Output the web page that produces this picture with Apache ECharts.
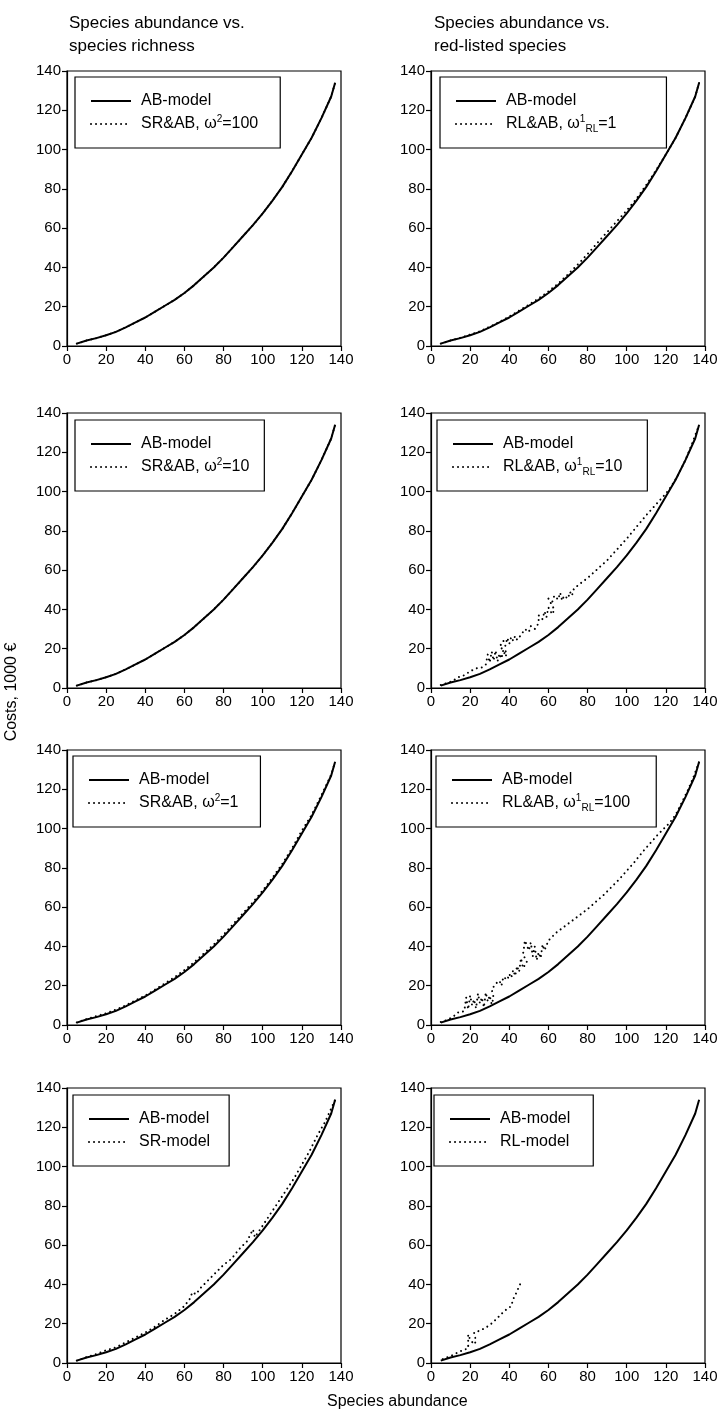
<!DOCTYPE html>
<html>
<head>
<meta charset="utf-8">
<script src="https://cdn.jsdelivr.net/npm/echarts@6/dist/echarts.min.js"></script>
<style>
html, body { margin: 0; padding: 0; background: #fff; }
#chart { width: 723px; height: 1412px; }
</style>
</head>
<body>
<div id="chart"></div>
<script>
// axis ticks shared by every panel
var axisTicks = [0, 20, 40, 60, 80, 100, 120, 140];

// AB-model (same curve in all panels)
var abundance = [5, 10, 15, 20, 25, 30, 35, 40, 45, 50, 55, 60, 65, 70, 75, 80, 85, 90, 95, 100, 105, 110, 115, 120, 125, 130, 135, 137];
var abCost = [1.2, 2.8, 4.0, 5.5, 7.2, 9.5, 12, 14.5, 17.5, 20.5, 23.5, 27, 31, 35.5, 40, 45, 50.5, 56, 61.5, 67.5, 74, 81, 89, 97.5, 106, 116, 127, 134];

// dotted series, [abundance, cost]
var srab100 = [[5, 1.2], [10, 2.8], [15, 4.0], [20, 5.5], [25, 7.2], [30, 9.5], [35, 12], [40, 14.5], [45, 17.5], [50, 20.5], [55, 23.5], [60, 27], [65, 31], [70, 35.5], [75, 40], [80, 45], [85, 50.5], [90, 56], [95, 61.5], [100, 67.5], [105, 74], [110, 81], [115, 89], [120, 97.5], [125, 106], [130, 116], [135, 127], [137, 134]];
var srab10 = [[5, 1.2], [10, 2.8], [15, 4.0], [20, 5.5], [25, 7.2], [30, 9.5], [35, 12], [40, 14.5], [45, 17.5], [50, 20.5], [55, 23.5], [60, 27], [65, 31], [70, 35.5], [75, 40], [80, 45], [85, 50.5], [90, 56], [95, 61.5], [100, 67.5], [105, 74], [110, 81], [115, 89], [120, 97.5], [125, 106], [130, 116], [135, 127], [137, 134]];
var srab1 = [[5, 1.3], [10, 3], [15, 4.5], [20, 6], [25, 7.8], [30, 10], [35, 12.5], [40, 15], [45, 18], [50, 21.2], [55, 24.3], [60, 28], [65, 32], [70, 36.5], [75, 41], [80, 46], [85, 51.5], [90, 57], [95, 62.5], [100, 68.5], [105, 75], [110, 82], [115, 90], [120, 99], [125, 107], [130, 117], [135, 127.5], [137, 134]];
var srModel = [[5, 1.2], [10, 3], [15, 4.5], [20, 6.5], [25, 8], [30, 10.5], [35, 13], [40, 15.5], [45, 18.5], [50, 22], [55, 25], [60, 29], [63, 33], [64, 36], [66, 35], [68, 38], [72, 42], [76, 46], [80, 50], [84, 53], [88, 58], [92, 62], [95, 68], [96, 64], [100, 70], [104, 76], [108, 82], [112, 88], [116, 94], [120, 101], [124, 108], [128, 116], [132, 123], [137, 134]];
var rlab1 = [[5, 1.2], [10, 2.8], [15, 4.2], [20, 5.8], [25, 7.5], [30, 9.8], [35, 12.3], [40, 15], [45, 18], [50, 21], [55, 24.2], [60, 27.8], [65, 31.8], [70, 36.5], [75, 41.5], [80, 46.8], [85, 52.5], [90, 58], [95, 63.5], [100, 69], [105, 75], [110, 82], [115, 89.5], [120, 97.5], [125, 106], [130, 116], [135, 127], [137, 134]];
var rlab10 = [[5, 1.5], [8, 2.5], [11, 3.5], [14, 5.5], [17, 6.5], [20, 8.5], [23, 10], [26, 10.5], [28, 12], [29, 17], [30, 13], [31, 18.5], [32, 14], [33, 19], [34, 13.5], [35, 17.5], [36, 15], [37, 19.5], [38, 16], [39, 18], [35, 21], [37, 24], [38, 21.5], [39, 25.5], [40, 22.5], [41, 26], [42, 24], [43, 26.5], [44, 24.5], [46, 27], [48, 30], [50, 28.5], [51, 31.5], [53, 30], [55, 33], [55, 37], [57, 35], [58, 39], [59, 36], [60, 41], [62, 37.5], [63, 40], [60, 45.5], [62, 44], [63, 47], [65, 45], [66, 48.5], [67, 44.5], [68, 47], [70, 45.5], [71, 49], [72, 47], [73, 50.5], [76, 53], [80, 56], [85, 60.5], [90, 65], [95, 70.5], [100, 76], [105, 82], [110, 88], [115, 93.5], [120, 99], [123, 103], [126, 108], [130, 116], [134, 126], [137, 134]];
var rlab100 = [[5, 1.5], [8, 2.5], [11, 4], [14, 6.5], [17, 7], [18, 14], [19, 8], [20, 15], [21, 10], [22, 13], [23, 8.5], [24, 16], [25, 11], [26, 14], [27, 9], [28, 16.5], [29, 12], [30, 15], [31, 10.5], [32, 14], [31, 18], [33, 21], [35, 22.5], [36, 20], [37, 24.5], [39, 23], [40, 26], [41, 24], [42, 28], [43, 25], [44, 30], [45, 27], [46, 34], [47, 29], [48, 28], [49, 32], [47, 36], [48, 43], [50, 38], [51, 42], [52, 35], [53, 40], [54, 33], [55, 37], [56, 34], [57, 41], [58, 38], [60, 43], [64, 47], [68, 50], [72, 53], [76, 56], [80, 59], [84, 62.5], [88, 66], [92, 70], [96, 74], [100, 78.5], [104, 83], [108, 88], [112, 92.5], [116, 97], [119, 100], [122, 103], [125, 107], [128, 113], [131, 119], [134, 126], [137, 134]];
var rlModel = [[6, 2], [11, 4], [15, 6], [19, 7.5], [19, 14.5], [20, 12], [22, 9.5], [23, 11], [22, 15.5], [25, 16.5], [28, 18], [31.5, 20.5], [34.5, 23.5], [37.5, 26.5], [41, 29], [42, 32.5], [43.5, 35.5], [45, 39], [46.5, 42]];

var font = 'Liberation Sans';
var rowTop = [71, 413, 750, 1088];
var colLeft = [67, 431];

var panels = [
    { row: 0, col: 0, name: 'SR&AB 100', label: 'SR&AB, ω{sup|2}=100', data: srab100, box: [75, 77, 22] },
    { row: 0, col: 1, name: 'RL&AB 1', label: 'RL&AB, ω{sup|1}{sub|RL}=1', data: rlab1, box: [440, 77, 50] },
    { row: 1, col: 0, name: 'SR&AB 10', label: 'SR&AB, ω{sup|2}=10', data: srab10, box: [75, 420, 15] },
    { row: 1, col: 1, name: 'RL&AB 10', label: 'RL&AB, ω{sup|1}{sub|RL}=10', data: rlab10, box: [437, 420, 25] },
    { row: 2, col: 0, name: 'SR&AB 1', label: 'SR&AB, ω{sup|2}=1', data: srab1, box: [73, 756, 22] },
    { row: 2, col: 1, name: 'RL&AB 100', label: 'RL&AB, ω{sup|1}{sub|RL}=100', data: rlab100, box: [436, 756, 26] },
    { row: 3, col: 0, name: 'SR-model', label: 'SR-model', data: srModel, box: [73, 1095, 19] },
    { row: 3, col: 1, name: 'RL-model', label: 'RL-model', data: rlModel, box: [434, 1095, 23] }
];

var labelMap = {};
panels.forEach(function (p) { labelMap[p.name] = p.label; });

function abSeriesData() {
    return abundance.map(function (x, i) { return [x, abCost[i]]; });
}

var grids = [], xAxes = [], yAxes = [], legends = [], series = [];
panels.forEach(function (p, i) {
    grids.push({
        left: colLeft[p.col], top: rowTop[p.row], width: 274, height: 275,
        show: true, borderColor: '#000', borderWidth: 1.2, backgroundColor: 'transparent'
    });
    var axisCommon = {
        gridIndex: i, type: 'value', min: axisTicks[0], max: axisTicks[axisTicks.length - 1],
        interval: axisTicks[1] - axisTicks[0],
        axisLine: { show: true, onZero: false, lineStyle: { color: '#000', width: 1.2 } },
        axisTick: { show: true, inside: false, length: 5, lineStyle: { color: '#000', width: 1.2 } },
        axisLabel: { color: '#000', fontSize: 15, fontFamily: font, margin: 6 },
        splitLine: { show: false }
    };
    xAxes.push(Object.assign({}, axisCommon));
    yAxes.push(Object.assign({}, axisCommon));
    legends.push({
        orient: 'vertical',
        left: p.box[0], top: p.box[1],
        padding: [14, p.box[2], 14, 15],
        borderColor: '#000', borderWidth: 1.2, borderRadius: 0,
        itemWidth: 40, itemHeight: 14, itemGap: 3,
        selectedMode: false,
        data: ['AB-model', p.name],
        formatter: function (name) { return labelMap[name] || name; },
        itemStyle: { color: 'rgba(0,0,0,0)', borderColor: 'rgba(0,0,0,0)', borderWidth: 0 },
        textStyle: {
            color: '#000', fontSize: 16, fontFamily: font, lineHeight: 20, padding: [0, 0, 0, 5],
            rich: {
                sup: { fontSize: 10, fontFamily: font, color: '#000', verticalAlign: 'top' },
                sub: { fontSize: 10, fontFamily: font, color: '#000', verticalAlign: 'bottom' }
            }
        }
    });
    series.push({
        name: 'AB-model', type: 'line', xAxisIndex: i, yAxisIndex: i,
        data: abSeriesData(), symbol: 'none', silent: true,
        itemStyle: { color: '#000' },
        lineStyle: { color: '#000', width: 2 }
    });
    series.push({
        name: p.name, type: 'line', xAxisIndex: i, yAxisIndex: i,
        data: p.data, symbol: 'none', silent: true,
        itemStyle: { color: '#000' },
        lineStyle: { color: '#000', width: 2, type: [0.01, 5], cap: 'round' }
    });
});

var myChart = echarts.init(document.getElementById('chart'), null, { renderer: 'canvas' });
var option = {
    animation: false,
    backgroundColor: '#fff',
    title: [{
        text: 'Species abundance vs.\nspecies richness', left: 64, top: 7,
        textStyle: { color: '#000', fontSize: 17, fontWeight: 'normal', fontFamily: font, lineHeight: 23 }
    }, {
        text: 'Species abundance vs.\nred-listed species', left: 429, top: 7,
        textStyle: { color: '#000', fontSize: 17, fontWeight: 'normal', fontFamily: font, lineHeight: 23 }
    }, {
        text: 'Species abundance', left: 322, top: 1389,
        textStyle: { color: '#000', fontSize: 16, fontWeight: 'normal', fontFamily: font }
    }],
    graphic: [{
        type: 'text', x: 12, y: 692, rotation: Math.PI / 2,
        style: { text: 'Costs, 1000 €', fill: '#000', fontSize: 16, fontFamily: font, align: 'center', verticalAlign: 'middle' }
    }],
    grid: grids,
    xAxis: xAxes,
    yAxis: yAxes,
    legend: legends,
    series: series
};
myChart.setOption(option, true);
window.onresize = myChart.resize;
</script>
</body>
</html>
